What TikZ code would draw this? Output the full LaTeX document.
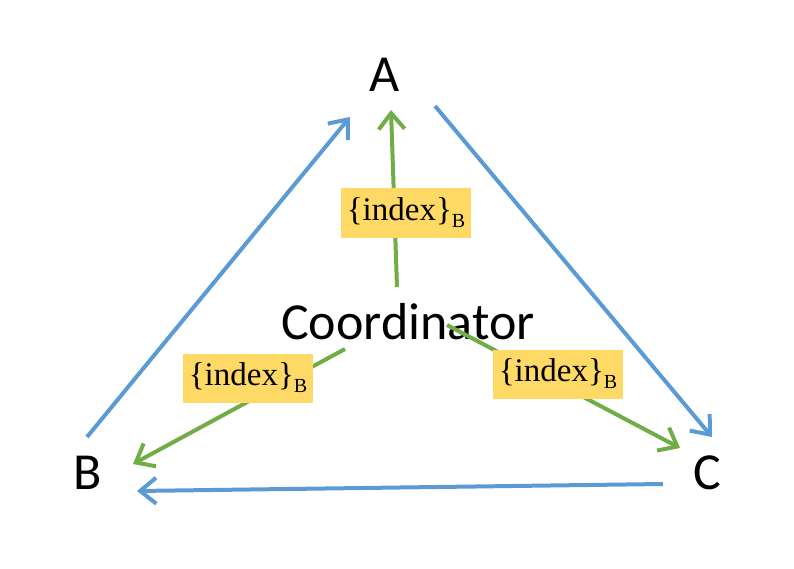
\documentclass[tikz,border=0pt]{standalone}
\usepackage{fontspec}
\setmainfont{Carlito}
\newfontfamily\serifnum{Liberation Serif}
\usetikzlibrary{arrows.meta,positioning}
\definecolor{cBlue}{RGB}{91,155,213}
\definecolor{cGreen}{RGB}{112,173,71}
\definecolor{cYellow}{RGB}{255,217,102}
\tikzset{
  peer/.style={inner sep=0pt,font=\fontsize{52}{52}\selectfont},
  idxbox/.style={fill=cYellow,minimum width=130pt,minimum height=49pt,
                 inner sep=0pt,font=\serifnum\fontsize{33}{33}\selectfont},
  bluarr/.style={-{Straight Barb[length=16pt,width=26pt]},line width=4pt,color=cBlue},
  grnarr/.style={-{Straight Barb[length=16pt,width=26pt]},line width=4pt,color=cGreen}
}
\newcommand{\idxlabel}{\{index\}\raisebox{-7pt}{\fontsize{20}{20}\selectfont B}}
\begin{document}
\begin{tikzpicture}[x=1pt,y=-1pt]
  \useasboundingbox (0,0) rectangle (794,569);

  % Peers
  \node[peer] (A) at (385,75) {A};
  \node[peer] (B) at (88,473) {B};
  \node[peer] (C) at (707,473) {C};
  \node[peer] (coord) at (408,322) {Coordinator};

  % Ring between peers
  \draw[bluarr] ([shift={(-1,-36)}]B.center) -- ([shift={(-35,42)}]A.center);
  \draw[bluarr] ([shift={(50,31)}]A.center) -- ([shift={(5,-36)}]C.center);
  \draw[bluarr] ([shift={(-44,11)}]C.center) -- ([shift={(49,18)}]B.center);

  % Coordinator sends index
  \draw[grnarr] ([shift={(-11,-35)}]coord.center) -- ([shift={(6,35)}]A.center);
  \draw[grnarr] ([shift={(-63,27)}]coord.center) -- ([shift={(45,-9)}]B.center);
  \draw[grnarr] ([shift={(39,3)}]coord.center) -- ([shift={(-27,-25)}]C.center);

  % Labels on the green arrows
  \node[idxbox] (la) at (406,213) {\idxlabel};
  \node[idxbox] (lb) at (248,378) {\idxlabel};
  \node[idxbox] (lc) at (558,374) {\idxlabel};

\end{tikzpicture}
\end{document}
